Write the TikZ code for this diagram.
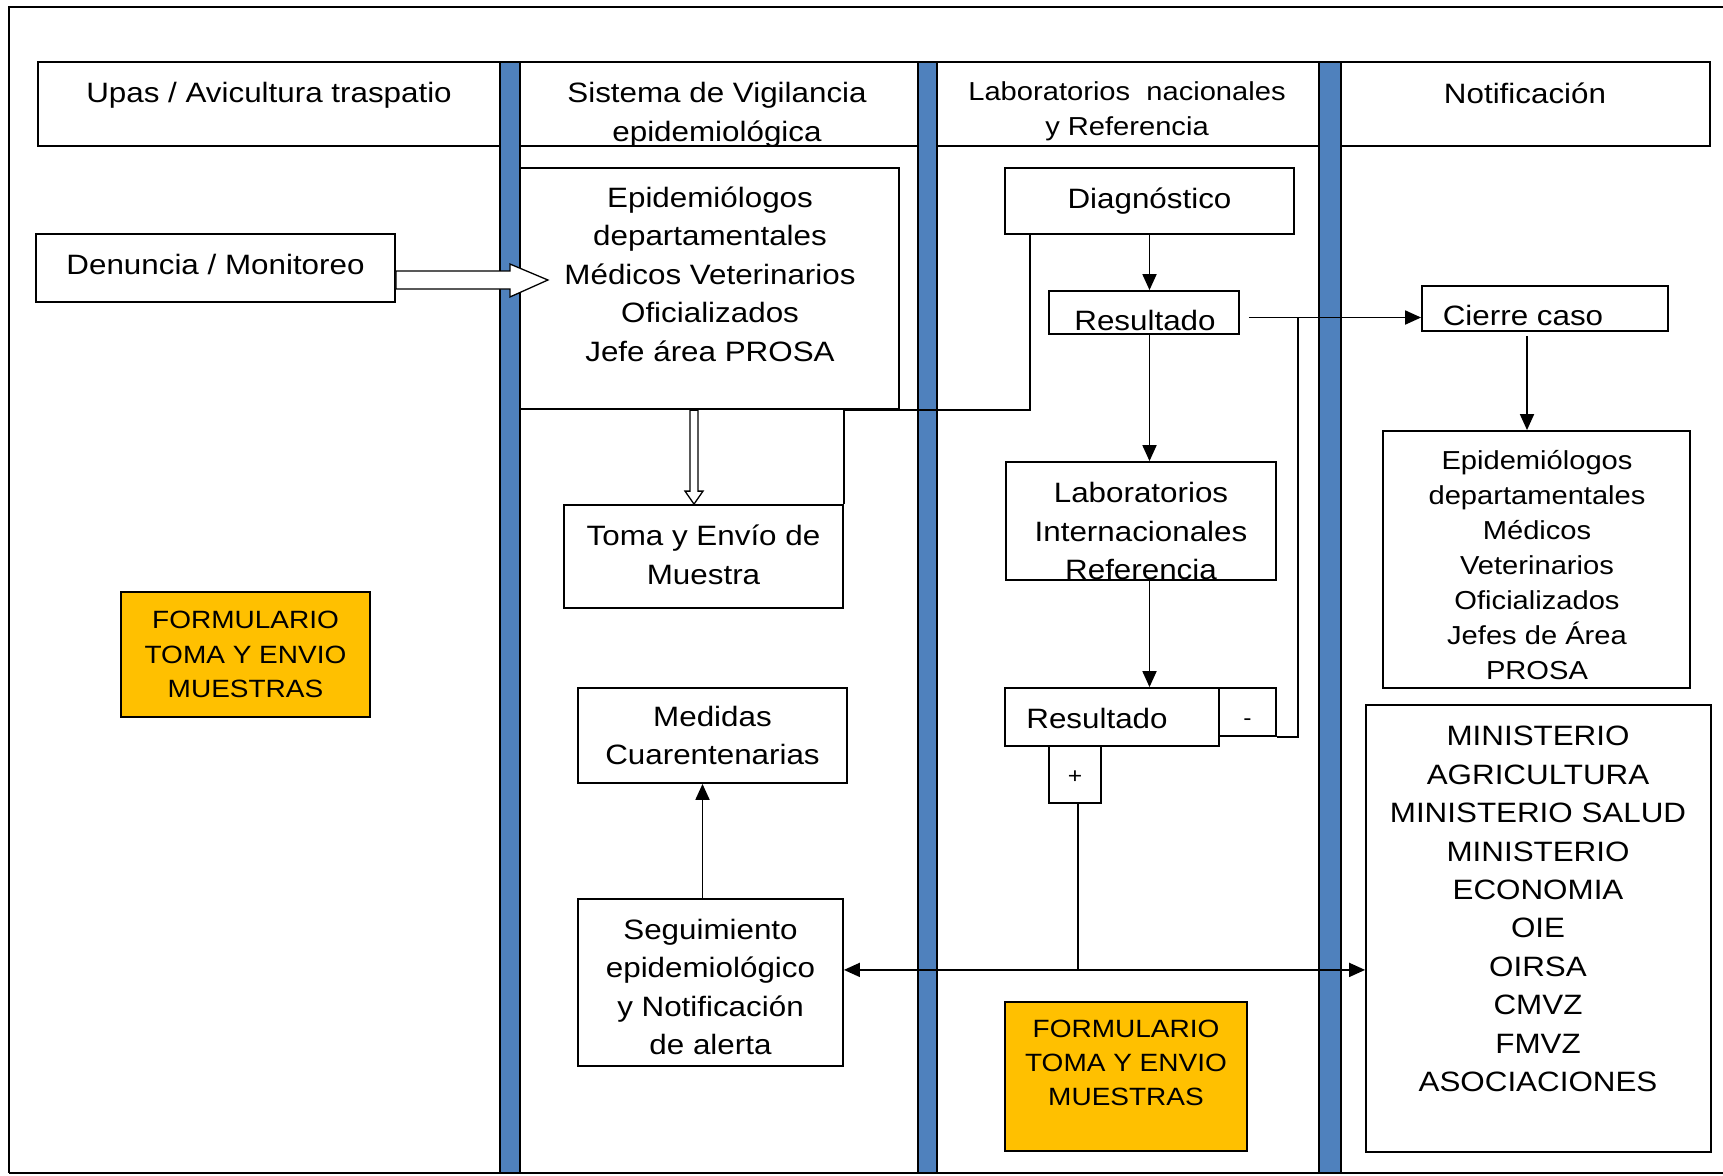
\documentclass[tikz,border=0pt]{standalone}
\usepackage{fontspec}
\setmainfont[FakeStretch=1.12]{Liberation Sans}
\usepackage{tikz}
\usetikzlibrary{arrows.meta, calc}
\definecolor{azulcarril}{HTML}{4F81BD}
\definecolor{naranjaform}{HTML}{FFC000}
\tikzstyle{caja} = [rectangle, 
draw=black, 
line width=1.8pt, 
fill=white, 
inner sep=0pt, 
align=center, 
font=\fontsize{28}{38.5}\selectfont]
\tikzstyle{formulario} = [caja, 
fill=naranjaform]
\tikzstyle{encabezado} = [rectangle, 
draw=black, 
line width=1.8pt, 
minimum height=84pt]
\tikzstyle{texto} = [inner sep=0pt, 
align=center, 
font=\fontsize{28}{38.5}\selectfont]
\tikzstyle{barra} = [draw=black, line width=1.2pt, fill=azulcarril]
\tikzstyle{linea} = [line width=1.8pt]
\tikzstyle{arrow} = [line width=1.8pt,-{Triangle[length=16pt,width=14pt]}]
\tikzstyle{dblarrow} = [line width=1.8pt,{Triangle[length=16pt,width=14pt]}-{Triangle[length=16pt,width=14pt]}]
\tikzstyle{hueca} = [line width=1.3pt, fill=white]

\begin{document}
\begin{tikzpicture}[x=1pt, y=-1pt]
        \useasboundingbox (0,0) rectangle (1723,1175);

        % --- Marco ---
        \draw [linea] (1723,7) -- (9,7) -- (9,1173);
        \draw [line width=2.6pt] (9,1173) -- (1723,1173);

        % --- Encabezados de carriles ---
        \node (hupas) [encabezado, minimum width=462pt] at (269,104) {};
        \node (hsis) [encabezado, minimum width=398pt] at (719,104) {};
        \node (hlab) [encabezado, minimum width=382pt] at (1128,104) {};
        \node (hnot) [encabezado, minimum width=369pt] at (1525.5,104) {};

        \draw [barra] (500,62) rectangle (520,1173);
        \draw [barra] (918,62) rectangle (937,1173);
        \draw [barra] (1319,62) rectangle (1341,1173);

        \node (tupas) [texto] at (269,95.5) {Upas / Avicultura traspatio};
        \node (tsis) [texto, font=\fontsize{28}{39.2}\selectfont] at (717,115) {Sistema de Vigilancia\\epidemiológica};
        \node (tlab) [texto, font=\fontsize{26}{34.3}\selectfont] at (1127,111.4) {Laboratorios~~nacionales\\y Referencia};
        \node (tnot) [texto] at (1525,93.5) {Notificación};

        % --- Definición de nodos ---
        \node (denuncia) [caja, minimum width=359pt, minimum height=68pt] at (215.5,268) {};
        \node (tdenuncia) [texto] at (215.5,264) {Denuncia / Monitoreo};
        \node (form1) [formulario, minimum width=249pt, minimum height=125pt, font=\fontsize{25}{34.5}\selectfont] at (245.5,654.5) {FORMULARIO\\TOMA Y ENVIO\\MUESTRAS};

        \node (epi1) [caja, minimum width=379pt, minimum height=241pt] at (709.5,288.5) {};
        \node (tepi1) [texto] at (710,274) {Epidemiólogos\\departamentales\\Médicos Veterinarios\\Oficializados\\Jefe área PROSA};
        \node (toma) [caja, minimum width=279pt, minimum height=103pt] at (703.5,556.5) {};
        \node (ttoma) [texto] at (703.5,555) {Toma y Envío de\\Muestra};
        \node (medidas) [caja, minimum width=269pt, minimum height=95pt] at (712.5,735.5) {Medidas\\Cuarentenarias};
        \node (seguim) [caja, minimum width=265pt, minimum height=167pt] at (710.5,982.5) {};
        \node (tseguim) [texto] at (710.5,987) {Seguimiento\\epidemiológico\\y Notificación\\de alerta};

        \node (diag) [caja, minimum width=289pt, minimum height=66pt] at (1149.5,201) {Diagnóstico};
        \node (res1) [caja, minimum width=190pt, minimum height=43pt] at (1144,312.5) {};
        \node (tres1) [texto] at (1145,320) {Resultado};
        \node (labint) [caja, minimum width=270pt, minimum height=118pt] at (1141,521) {};
        \node (tlabint) [texto] at (1141,531) {Laboratorios\\Internacionales\\Referencia};
        \node (res2) [caja, minimum width=214pt, minimum height=58pt] at (1112,717) {};
        \node (tres2) [texto] at (1097,718) {Resultado};
        \node (minus) [caja, minimum width=57pt, minimum height=48pt, font=\fontsize{22}{26}\selectfont, text height=26pt, text depth=0pt] at (1247.5,712) {-};
        \node (plus) [caja, minimum width=52pt, minimum height=57pt, font=\fontsize{22}{26}\selectfont, text height=18pt, text depth=0pt] at (1075,774.5) {+};
        \node (form2) [formulario, minimum width=242pt, minimum height=149pt] at (1126,1076.5) {};
        \node (tform2) [texto, font=\fontsize{25}{34}\selectfont] at (1126,1063) {FORMULARIO\\TOMA Y ENVIO\\MUESTRAS};

        \node (cierre) [caja, minimum width=246pt, minimum height=45pt] at (1545,308.5) {};
        \node (tcierre) [texto] at (1523,315) {Cierre caso};
        \node (epi2) [caja, minimum width=307pt, minimum height=257pt] at (1536.5,559.5) {};
        \node (tepi2) [texto, font=\fontsize{26}{35}\selectfont] at (1537,565) {Epidemiólogos\\departamentales\\Médicos\\Veterinarios\\Oficializados\\Jefes de Área\\PROSA};
        \node (minist) [caja, minimum width=345pt, minimum height=447pt] at (1538.5,928.5) {};
        \node (tminist) [texto, font=\fontsize{28}{38.4}\selectfont] at (1538,909) {MINISTERIO\\AGRICULTURA\\MINISTERIO SALUD\\MINISTERIO\\ECONOMIA\\OIE\\OIRSA\\CMVZ\\FMVZ\\ASOCIACIONES};

        % --- Conexiones ---
        \draw [hueca] ([yshift=-3pt]denuncia.east) -- ++(114,0) -- ++(0,-7) -- ++(38,16) -- ++(-38,17) -- ++(0,-8) -- ++(-114,0) -- cycle;
        \draw [hueca] ([xshift=-9.5pt]toma.north) -- ++(-9,-13) -- ++(5,0) -- ++(0,-81) -- ++(8,0) -- ++(0,81) -- ++(5,0) -- cycle;
        \draw [linea] ([xshift=26pt]diag.south west) |- (toma.north east |- epi1.south) -- (toma.north east);

        \draw [arrow] (diag.south) -- (diag.south |- res1.north);
        \draw [arrow] (diag.south |- res1.south) -- (diag.south |- labint.north);
        \draw [arrow] (diag.south |- labint.south) -- (diag.south |- res2.north);

        % resultado negativo: cierre del caso
        \coordinate (neg) at ([xshift=9pt,yshift=-5pt]res1.east);
        \draw [arrow] (neg) -- (neg -| cierre.west);
        \draw [linea] (minus.south east) -- ++(21,0) coordinate (codo) -- (codo |- neg);
        \draw [arrow] ([xshift=-18pt,yshift=-4pt]cierre.south) -- ([xshift=-18pt]cierre.south |- epi2.north);

        % resultado positivo: seguimiento y notificación
        \coordinate (bus) at ($(plus.south)+(3,166)$);
        \draw [linea] ([xshift=3pt]plus.south) -- (bus);
        \draw [dblarrow] (seguim.east |- bus) -- (minist.west |- bus);
        \draw [arrow] ([xshift=-8pt]seguim.north) -- ([xshift=-8pt]seguim.north |- medidas.south);

\end{tikzpicture}
\end{document}
